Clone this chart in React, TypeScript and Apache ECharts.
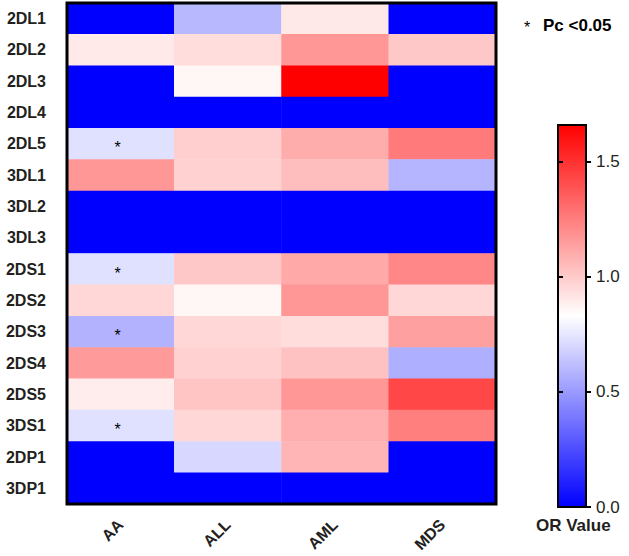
import React, { useEffect, useRef } from "react";
import * as echarts from "echarts";

const groups = ["AA", "ALL", "AML", "MDS"];
const genes = ["2DL1", "2DL2", "2DL3", "2DL4", "2DL5", "3DL1", "3DL2", "3DL3", "2DS1", "2DS2", "2DS3", "2DS4", "2DS5", "3DS1", "2DP1", "3DP1"];
// OR values per gene, columns: AA, ALL, AML, MDS
const aaValues = [0, 0.9, 0, 0, 0.73, 1.17, 0, 0, 0.73, 0.96, 0.58, 1.16, 0.89, 0.73, 0, 0];
const allValues = [0.6, 0.94, 0.86, 0, 0.99, 0.98, 0, 0, 1.01, 0.86, 0.96, 0.98, 1.02, 0.96, 0.7, 0];
const amlValues = [0.905, 1.17, 1.66, 0, 1.1, 1.04, 0, 0, 1.11, 1.17, 0.94, 1.03, 1.17, 1.09, 1.07, 0];
const mdsValues = [0, 1.01, 0, 0, 1.26, 0.59, 0, 0, 1.22, 0.96, 1.14, 0.57, 1.43, 1.25, 0, 0];
// significance flags (Pc < 0.05), AA column
const aaSignificant = [false, false, false, false, true, false, false, false, true, false, true, false, false, true, false, false];
const colorMin = 0;
const colorMax = 1.66;
const colorStops = ["#0000ff", "#ffffff", "#ff0000"];

export default function App() {
  const ref = useRef<HTMLDivElement>(null);
  useEffect(() => {
    if (!ref.current) return;
    const chart = echarts.init(ref.current, null, { renderer: "svg" });
    const cols = [aaValues, allValues, amlValues, mdsValues];
    const sigs = [aaSignificant, null, null, null];
    const data: any[] = [];
    cols.forEach((vals, c) => {
      vals.forEach((v, r) => {
        const sig = sigs[c] ? (sigs[c] as boolean[])[r] : false;
        data.push({ value: [c, r, v], sig });
      });
    });
    const textColor = "#231f20";
    const gradient = new echarts.graphic.LinearGradient(0, 1, 0, 0, colorStops.map((c, i) => ({ offset: i / (colorStops.length - 1), color: c })));
    chart.setOption({
      animation: false,
      backgroundColor: "#fff",
      grid: [
        { left: 67, top: 3, width: 429, height: 501, show: true, borderColor: "#000", borderWidth: 3, backgroundColor: "transparent", z: 10 },
        { left: 558, top: 125, width: 28, height: 382, show: true, borderColor: "#000", borderWidth: 2, backgroundColor: "transparent", z: 10 },
      ],
      xAxis: [
        {
          type: "category",
          data: groups,
          gridIndex: 0,
          axisLine: { show: false },
          axisTick: { show: false },
          splitLine: { show: false },
          axisLabel: { rotate: 45, margin: 18, fontSize: 16, fontWeight: "bold", fontFamily: "Liberation Sans, Arial", color: textColor },
        },
        { type: "category", gridIndex: 1, show: false, data: ["OR"] },
      ],
      yAxis: [
        {
          type: "category",
          data: genes,
          inverse: true,
          gridIndex: 0,
          axisLine: { show: false },
          axisTick: { show: false },
          splitLine: { show: false },
          axisLabel: { margin: 21, fontSize: 16, fontWeight: "bold", fontFamily: "Liberation Sans, Arial", color: textColor },
        },
        {
          type: "value",
          gridIndex: 1,
          position: "right",
          min: colorMin,
          max: colorMax,
          interval: 0.5,
          z: 20,
          axisLine: { show: false },
          axisTick: { show: true, inside: false, length: 5, lineStyle: { color: "#000", width: 2 } },
          splitLine: { show: false },
          axisLabel: {
            margin: 10,
            fontSize: 17,
            fontFamily: "Liberation Sans, Arial",
            color: textColor,
            showMaxLabel: false,
            formatter: (v: number) => v.toFixed(1),
          },
        },
        {
          type: "value",
          gridIndex: 1,
          position: "left",
          min: colorMin,
          max: colorMax,
          interval: 0.5,
          z: 20,
          axisLine: { show: false },
          axisTick: { show: true, inside: true, length: 5, lineStyle: { color: "#000", width: 2 } },
          splitLine: { show: false },
          axisLabel: { show: false },
        },
      ],
      visualMap: {
        type: "continuous",
        show: false,
        min: colorMin,
        max: colorMax,
        seriesIndex: 0,
        inRange: { color: colorStops },
      },
      graphic: [
        { type: "text", left: 524, top: 19, style: { text: "*", fontSize: 16, fontFamily: "Liberation Sans, Arial", fill: "#000" } },
        { type: "text", left: 543, top: 17, style: { text: "Pc <0.05", fontSize: 17, fontWeight: "bold", fontFamily: "Liberation Sans, Arial", fill: "#000" } },
        { type: "text", left: 536, top: 517, style: { text: "OR Value", fontSize: 17, fontWeight: "bold", fontFamily: "Liberation Sans, Arial", fill: textColor } },
      ],
      series: [
        {
          type: "heatmap",
          xAxisIndex: 0,
          yAxisIndex: 0,
          data,
          label: {
            show: true,
            formatter: (p: any) => (p.data.sig ? "*" : ""),
            fontSize: 16,
            color: "#000",
            fontFamily: "Liberation Sans, Arial",
            offset: [-3, 4],
          },
          itemStyle: { borderWidth: 0 },
          emphasis: { disabled: true },
        },
        {
          type: "bar",
          xAxisIndex: 1,
          yAxisIndex: 1,
          data: [colorMax],
          barWidth: "100%",
          itemStyle: { color: gradient },
          emphasis: { disabled: true },
          z: -1,
        },
      ],
    });
    return () => chart.dispose();
  }, []);
  return <div ref={ref} style={{ width: 629, height: 556, position: "absolute", left: 0, top: 0 }} />;
}
